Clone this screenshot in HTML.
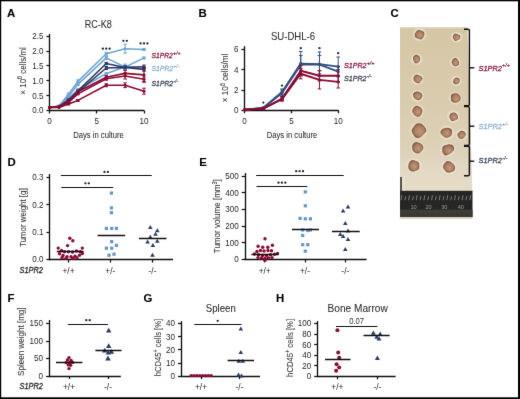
<!DOCTYPE html>
<html><head><meta charset="utf-8"><style>
html,body{margin:0;padding:0;background:#fff;}
svg{display:block;will-change:transform;}
text{font-family:"Liberation Sans", sans-serif;}
</style></head><body>
<svg width="520" height="399" viewBox="0 0 520 399">
<filter id="blr" x="0" y="0" width="520" height="399" filterUnits="userSpaceOnUse" primitiveUnits="userSpaceOnUse" color-interpolation-filters="sRGB"><feConvolveMatrix order="3" kernelMatrix="0.0052 0.0619 0.0052 0.0619 0.7314 0.0619 0.0052 0.0619 0.0052" edgeMode="duplicate" preserveAlpha="true"/></filter>
<g filter="url(#blr)">
<rect x="0" y="0" width="520" height="399" fill="#000"/>
<rect x="1.2" y="1.3" width="516.8" height="396" fill="#fff"/>
<text x="7.00" y="17.00" font-size="11.4" fill="#000" font-weight="bold"  stroke="#000" stroke-width="0.1">A</text>
<text x="98.30" y="28.30" font-size="10.4" fill="#2a2a2a" text-anchor="middle" textLength="27.3" lengthAdjust="spacingAndGlyphs"  stroke="#2a2a2a" stroke-width="0.06">RC-K8</text>
<line x1="49.50" y1="34.00" x2="49.50" y2="111.10" stroke="#111" stroke-width="1.35"/>
<line x1="46.45" y1="110.50" x2="49.75" y2="110.50" stroke="#111" stroke-width="1.25"/>
<text x="43.45" y="113.38" font-size="9.4" fill="#262626" text-anchor="end" textLength="11.24" lengthAdjust="spacingAndGlyphs" >0.0</text>
<line x1="46.45" y1="95.50" x2="49.75" y2="95.50" stroke="#111" stroke-width="1.25"/>
<text x="43.45" y="98.52" font-size="9.4" fill="#262626" text-anchor="end" textLength="11.24" lengthAdjust="spacingAndGlyphs" >0.5</text>
<line x1="46.45" y1="80.50" x2="49.75" y2="80.50" stroke="#111" stroke-width="1.25"/>
<text x="43.45" y="83.66" font-size="9.4" fill="#262626" text-anchor="end" textLength="11.24" lengthAdjust="spacingAndGlyphs" >1.0</text>
<line x1="46.45" y1="65.50" x2="49.75" y2="65.50" stroke="#111" stroke-width="1.25"/>
<text x="43.45" y="68.80" font-size="9.4" fill="#262626" text-anchor="end" textLength="11.24" lengthAdjust="spacingAndGlyphs" >1.5</text>
<line x1="46.45" y1="51.50" x2="49.75" y2="51.50" stroke="#111" stroke-width="1.25"/>
<text x="43.45" y="53.94" font-size="9.4" fill="#262626" text-anchor="end" textLength="11.24" lengthAdjust="spacingAndGlyphs" >2.0</text>
<line x1="46.45" y1="36.50" x2="49.75" y2="36.50" stroke="#111" stroke-width="1.25"/>
<text x="43.45" y="39.08" font-size="9.4" fill="#262626" text-anchor="end" textLength="11.24" lengthAdjust="spacingAndGlyphs" >2.5</text>
<line x1="49.15" y1="110.50" x2="144.20" y2="110.50" stroke="#111" stroke-width="1.35"/>
<line x1="49.50" y1="110.50" x2="49.50" y2="113.50" stroke="#111" stroke-width="1.25"/>
<text x="49.60" y="124.00" font-size="9.4" fill="#262626" text-anchor="middle" textLength="4.5" lengthAdjust="spacingAndGlyphs" >0</text>
<line x1="96.50" y1="110.50" x2="96.50" y2="113.50" stroke="#111" stroke-width="1.25"/>
<text x="96.80" y="124.00" font-size="9.4" fill="#262626" text-anchor="middle" textLength="4.5" lengthAdjust="spacingAndGlyphs" >5</text>
<line x1="144.50" y1="110.50" x2="144.50" y2="113.50" stroke="#111" stroke-width="1.25"/>
<text x="144.00" y="124.00" font-size="9.4" fill="#262626" text-anchor="middle" textLength="8.99" lengthAdjust="spacingAndGlyphs" >10</text>
<text x="98.50" y="137.70" font-size="9.9" fill="#2a2a2a" text-anchor="middle" textLength="50.5" lengthAdjust="spacingAndGlyphs"  stroke="#2a2a2a" stroke-width="0.06">Days in culture</text>
<text x="25.60" y="70.90" font-size="9.4" fill="#333" text-anchor="middle" textLength="47.5" lengthAdjust="spacingAndGlyphs" transform="rotate(-90 25.60 70.90)"  stroke="#333" stroke-width="0.06">× 10<tspan dy='-3.2' font-size='6.4'>6</tspan><tspan dy='3.2'> cells/ml</tspan></text>
<polyline points="49.60,107.53 59.04,106.04 68.48,94.15 77.92,81.37 106.24,53.73 125.12,48.68 144.00,49.57" fill="none" stroke="#6ea6d8" stroke-width="1.6" stroke-linejoin="round"/>
<circle cx="49.60" cy="107.53" r="1.5" fill="#6ea6d8"/>
<circle cx="59.04" cy="106.04" r="1.5" fill="#6ea6d8"/>
<line x1="68.48" y1="92.97" x2="68.48" y2="95.34" stroke="#6ea6d8" stroke-width="1.0"/>
<line x1="66.68" y1="92.97" x2="70.28" y2="92.97" stroke="#6ea6d8" stroke-width="1.0"/>
<line x1="66.68" y1="95.34" x2="70.28" y2="95.34" stroke="#6ea6d8" stroke-width="1.0"/>
<circle cx="68.48" cy="94.15" r="1.5" fill="#6ea6d8"/>
<line x1="77.92" y1="79.89" x2="77.92" y2="82.86" stroke="#6ea6d8" stroke-width="1.0"/>
<line x1="76.12" y1="79.89" x2="79.72" y2="79.89" stroke="#6ea6d8" stroke-width="1.0"/>
<line x1="76.12" y1="82.86" x2="79.72" y2="82.86" stroke="#6ea6d8" stroke-width="1.0"/>
<circle cx="77.92" cy="81.37" r="1.5" fill="#6ea6d8"/>
<line x1="106.24" y1="52.25" x2="106.24" y2="55.22" stroke="#6ea6d8" stroke-width="1.0"/>
<line x1="104.44" y1="52.25" x2="108.04" y2="52.25" stroke="#6ea6d8" stroke-width="1.0"/>
<line x1="104.44" y1="55.22" x2="108.04" y2="55.22" stroke="#6ea6d8" stroke-width="1.0"/>
<circle cx="106.24" cy="53.73" r="1.5" fill="#6ea6d8"/>
<line x1="125.12" y1="44.22" x2="125.12" y2="53.14" stroke="#6ea6d8" stroke-width="1.0"/>
<line x1="123.32" y1="44.22" x2="126.92" y2="44.22" stroke="#6ea6d8" stroke-width="1.0"/>
<line x1="123.32" y1="53.14" x2="126.92" y2="53.14" stroke="#6ea6d8" stroke-width="1.0"/>
<circle cx="125.12" cy="48.68" r="1.5" fill="#6ea6d8"/>
<line x1="144.00" y1="48.68" x2="144.00" y2="50.47" stroke="#6ea6d8" stroke-width="1.0"/>
<line x1="142.20" y1="48.68" x2="145.80" y2="48.68" stroke="#6ea6d8" stroke-width="1.0"/>
<line x1="142.20" y1="50.47" x2="145.80" y2="50.47" stroke="#6ea6d8" stroke-width="1.0"/>
<circle cx="144.00" cy="49.57" r="1.5" fill="#6ea6d8"/>
<polyline points="49.60,107.53 59.04,106.04 68.48,96.53 77.92,84.35 106.24,57.90 125.12,67.11 144.00,57.90" fill="none" stroke="#6ea6d8" stroke-width="1.6" stroke-linejoin="round"/>
<circle cx="49.60" cy="107.53" r="1.5" fill="#6ea6d8"/>
<circle cx="59.04" cy="106.04" r="1.5" fill="#6ea6d8"/>
<line x1="68.48" y1="95.64" x2="68.48" y2="97.42" stroke="#6ea6d8" stroke-width="1.0"/>
<line x1="66.68" y1="95.64" x2="70.28" y2="95.64" stroke="#6ea6d8" stroke-width="1.0"/>
<line x1="66.68" y1="97.42" x2="70.28" y2="97.42" stroke="#6ea6d8" stroke-width="1.0"/>
<circle cx="68.48" cy="96.53" r="1.5" fill="#6ea6d8"/>
<line x1="77.92" y1="83.16" x2="77.92" y2="85.54" stroke="#6ea6d8" stroke-width="1.0"/>
<line x1="76.12" y1="83.16" x2="79.72" y2="83.16" stroke="#6ea6d8" stroke-width="1.0"/>
<line x1="76.12" y1="85.54" x2="79.72" y2="85.54" stroke="#6ea6d8" stroke-width="1.0"/>
<circle cx="77.92" cy="84.35" r="1.5" fill="#6ea6d8"/>
<line x1="106.24" y1="56.41" x2="106.24" y2="59.38" stroke="#6ea6d8" stroke-width="1.0"/>
<line x1="104.44" y1="56.41" x2="108.04" y2="56.41" stroke="#6ea6d8" stroke-width="1.0"/>
<line x1="104.44" y1="59.38" x2="108.04" y2="59.38" stroke="#6ea6d8" stroke-width="1.0"/>
<circle cx="106.24" cy="57.90" r="1.5" fill="#6ea6d8"/>
<line x1="125.12" y1="64.14" x2="125.12" y2="70.08" stroke="#6ea6d8" stroke-width="1.0"/>
<line x1="123.32" y1="64.14" x2="126.92" y2="64.14" stroke="#6ea6d8" stroke-width="1.0"/>
<line x1="123.32" y1="70.08" x2="126.92" y2="70.08" stroke="#6ea6d8" stroke-width="1.0"/>
<circle cx="125.12" cy="67.11" r="1.5" fill="#6ea6d8"/>
<line x1="144.00" y1="57.00" x2="144.00" y2="58.79" stroke="#6ea6d8" stroke-width="1.0"/>
<line x1="142.20" y1="57.00" x2="145.80" y2="57.00" stroke="#6ea6d8" stroke-width="1.0"/>
<line x1="142.20" y1="58.79" x2="145.80" y2="58.79" stroke="#6ea6d8" stroke-width="1.0"/>
<circle cx="144.00" cy="57.90" r="1.5" fill="#6ea6d8"/>
<polyline points="49.60,107.53 59.04,106.64 68.48,98.61 77.92,89.70 106.24,73.65 125.12,66.81 144.00,68.89" fill="none" stroke="#6ea6d8" stroke-width="1.6" stroke-linejoin="round"/>
<circle cx="49.60" cy="107.53" r="1.5" fill="#6ea6d8"/>
<circle cx="59.04" cy="106.64" r="1.5" fill="#6ea6d8"/>
<line x1="68.48" y1="97.72" x2="68.48" y2="99.50" stroke="#6ea6d8" stroke-width="1.0"/>
<line x1="66.68" y1="97.72" x2="70.28" y2="97.72" stroke="#6ea6d8" stroke-width="1.0"/>
<line x1="66.68" y1="99.50" x2="70.28" y2="99.50" stroke="#6ea6d8" stroke-width="1.0"/>
<circle cx="68.48" cy="98.61" r="1.5" fill="#6ea6d8"/>
<line x1="77.92" y1="88.80" x2="77.92" y2="90.59" stroke="#6ea6d8" stroke-width="1.0"/>
<line x1="76.12" y1="88.80" x2="79.72" y2="88.80" stroke="#6ea6d8" stroke-width="1.0"/>
<line x1="76.12" y1="90.59" x2="79.72" y2="90.59" stroke="#6ea6d8" stroke-width="1.0"/>
<circle cx="77.92" cy="89.70" r="1.5" fill="#6ea6d8"/>
<line x1="106.24" y1="72.46" x2="106.24" y2="74.84" stroke="#6ea6d8" stroke-width="1.0"/>
<line x1="104.44" y1="72.46" x2="108.04" y2="72.46" stroke="#6ea6d8" stroke-width="1.0"/>
<line x1="104.44" y1="74.84" x2="108.04" y2="74.84" stroke="#6ea6d8" stroke-width="1.0"/>
<circle cx="106.24" cy="73.65" r="1.5" fill="#6ea6d8"/>
<line x1="125.12" y1="65.33" x2="125.12" y2="68.30" stroke="#6ea6d8" stroke-width="1.0"/>
<line x1="123.32" y1="65.33" x2="126.92" y2="65.33" stroke="#6ea6d8" stroke-width="1.0"/>
<line x1="123.32" y1="68.30" x2="126.92" y2="68.30" stroke="#6ea6d8" stroke-width="1.0"/>
<circle cx="125.12" cy="66.81" r="1.5" fill="#6ea6d8"/>
<line x1="144.00" y1="67.41" x2="144.00" y2="70.38" stroke="#6ea6d8" stroke-width="1.0"/>
<line x1="142.20" y1="67.41" x2="145.80" y2="67.41" stroke="#6ea6d8" stroke-width="1.0"/>
<line x1="142.20" y1="70.38" x2="145.80" y2="70.38" stroke="#6ea6d8" stroke-width="1.0"/>
<circle cx="144.00" cy="68.89" r="1.5" fill="#6ea6d8"/>
<polyline points="49.60,107.53 59.04,106.34 68.48,99.80 77.92,90.88 106.24,63.54 125.12,67.41 144.00,66.81" fill="none" stroke="#2c3d66" stroke-width="1.6" stroke-linejoin="round"/>
<circle cx="49.60" cy="107.53" r="1.5" fill="#2c3d66"/>
<circle cx="59.04" cy="106.34" r="1.5" fill="#2c3d66"/>
<line x1="68.48" y1="98.91" x2="68.48" y2="100.69" stroke="#2c3d66" stroke-width="1.0"/>
<line x1="66.68" y1="98.91" x2="70.28" y2="98.91" stroke="#2c3d66" stroke-width="1.0"/>
<line x1="66.68" y1="100.69" x2="70.28" y2="100.69" stroke="#2c3d66" stroke-width="1.0"/>
<circle cx="68.48" cy="99.80" r="1.5" fill="#2c3d66"/>
<line x1="77.92" y1="89.99" x2="77.92" y2="91.78" stroke="#2c3d66" stroke-width="1.0"/>
<line x1="76.12" y1="89.99" x2="79.72" y2="89.99" stroke="#2c3d66" stroke-width="1.0"/>
<line x1="76.12" y1="91.78" x2="79.72" y2="91.78" stroke="#2c3d66" stroke-width="1.0"/>
<circle cx="77.92" cy="90.88" r="1.5" fill="#2c3d66"/>
<line x1="106.24" y1="62.35" x2="106.24" y2="64.73" stroke="#2c3d66" stroke-width="1.0"/>
<line x1="104.44" y1="62.35" x2="108.04" y2="62.35" stroke="#2c3d66" stroke-width="1.0"/>
<line x1="104.44" y1="64.73" x2="108.04" y2="64.73" stroke="#2c3d66" stroke-width="1.0"/>
<circle cx="106.24" cy="63.54" r="1.5" fill="#2c3d66"/>
<line x1="125.12" y1="65.92" x2="125.12" y2="68.89" stroke="#2c3d66" stroke-width="1.0"/>
<line x1="123.32" y1="65.92" x2="126.92" y2="65.92" stroke="#2c3d66" stroke-width="1.0"/>
<line x1="123.32" y1="68.89" x2="126.92" y2="68.89" stroke="#2c3d66" stroke-width="1.0"/>
<circle cx="125.12" cy="67.41" r="1.5" fill="#2c3d66"/>
<line x1="144.00" y1="65.03" x2="144.00" y2="68.59" stroke="#2c3d66" stroke-width="1.0"/>
<line x1="142.20" y1="65.03" x2="145.80" y2="65.03" stroke="#2c3d66" stroke-width="1.0"/>
<line x1="142.20" y1="68.59" x2="145.80" y2="68.59" stroke="#2c3d66" stroke-width="1.0"/>
<circle cx="144.00" cy="66.81" r="1.5" fill="#2c3d66"/>
<polyline points="49.60,107.53 59.04,106.64 68.48,100.99 77.92,92.07 106.24,68.00 125.12,67.41 144.00,69.49" fill="none" stroke="#2c3d66" stroke-width="1.6" stroke-linejoin="round"/>
<circle cx="49.60" cy="107.53" r="1.5" fill="#2c3d66"/>
<circle cx="59.04" cy="106.64" r="1.5" fill="#2c3d66"/>
<line x1="68.48" y1="100.10" x2="68.48" y2="101.88" stroke="#2c3d66" stroke-width="1.0"/>
<line x1="66.68" y1="100.10" x2="70.28" y2="100.10" stroke="#2c3d66" stroke-width="1.0"/>
<line x1="66.68" y1="101.88" x2="70.28" y2="101.88" stroke="#2c3d66" stroke-width="1.0"/>
<circle cx="68.48" cy="100.99" r="1.5" fill="#2c3d66"/>
<line x1="77.92" y1="91.18" x2="77.92" y2="92.97" stroke="#2c3d66" stroke-width="1.0"/>
<line x1="76.12" y1="91.18" x2="79.72" y2="91.18" stroke="#2c3d66" stroke-width="1.0"/>
<line x1="76.12" y1="92.97" x2="79.72" y2="92.97" stroke="#2c3d66" stroke-width="1.0"/>
<circle cx="77.92" cy="92.07" r="1.5" fill="#2c3d66"/>
<line x1="106.24" y1="66.51" x2="106.24" y2="69.49" stroke="#2c3d66" stroke-width="1.0"/>
<line x1="104.44" y1="66.51" x2="108.04" y2="66.51" stroke="#2c3d66" stroke-width="1.0"/>
<line x1="104.44" y1="69.49" x2="108.04" y2="69.49" stroke="#2c3d66" stroke-width="1.0"/>
<circle cx="106.24" cy="68.00" r="1.5" fill="#2c3d66"/>
<line x1="125.12" y1="66.22" x2="125.12" y2="68.59" stroke="#2c3d66" stroke-width="1.0"/>
<line x1="123.32" y1="66.22" x2="126.92" y2="66.22" stroke="#2c3d66" stroke-width="1.0"/>
<line x1="123.32" y1="68.59" x2="126.92" y2="68.59" stroke="#2c3d66" stroke-width="1.0"/>
<circle cx="125.12" cy="67.41" r="1.5" fill="#2c3d66"/>
<line x1="144.00" y1="67.70" x2="144.00" y2="71.27" stroke="#2c3d66" stroke-width="1.0"/>
<line x1="142.20" y1="67.70" x2="145.80" y2="67.70" stroke="#2c3d66" stroke-width="1.0"/>
<line x1="142.20" y1="71.27" x2="145.80" y2="71.27" stroke="#2c3d66" stroke-width="1.0"/>
<circle cx="144.00" cy="69.49" r="1.5" fill="#2c3d66"/>
<polyline points="49.60,107.53 59.04,106.64 68.48,101.58 77.92,91.78 106.24,77.21 125.12,73.35 144.00,74.84" fill="none" stroke="#8c0c34" stroke-width="1.6" stroke-linejoin="round"/>
<circle cx="49.60" cy="107.53" r="1.5" fill="#8c0c34"/>
<circle cx="59.04" cy="106.64" r="1.5" fill="#8c0c34"/>
<line x1="68.48" y1="100.69" x2="68.48" y2="102.48" stroke="#8c0c34" stroke-width="1.0"/>
<line x1="66.68" y1="100.69" x2="70.28" y2="100.69" stroke="#8c0c34" stroke-width="1.0"/>
<line x1="66.68" y1="102.48" x2="70.28" y2="102.48" stroke="#8c0c34" stroke-width="1.0"/>
<circle cx="68.48" cy="101.58" r="1.5" fill="#8c0c34"/>
<line x1="77.92" y1="90.88" x2="77.92" y2="92.67" stroke="#8c0c34" stroke-width="1.0"/>
<line x1="76.12" y1="90.88" x2="79.72" y2="90.88" stroke="#8c0c34" stroke-width="1.0"/>
<line x1="76.12" y1="92.67" x2="79.72" y2="92.67" stroke="#8c0c34" stroke-width="1.0"/>
<circle cx="77.92" cy="91.78" r="1.5" fill="#8c0c34"/>
<line x1="106.24" y1="75.73" x2="106.24" y2="78.70" stroke="#8c0c34" stroke-width="1.0"/>
<line x1="104.44" y1="75.73" x2="108.04" y2="75.73" stroke="#8c0c34" stroke-width="1.0"/>
<line x1="104.44" y1="78.70" x2="108.04" y2="78.70" stroke="#8c0c34" stroke-width="1.0"/>
<circle cx="106.24" cy="77.21" r="1.5" fill="#8c0c34"/>
<line x1="125.12" y1="70.38" x2="125.12" y2="76.32" stroke="#8c0c34" stroke-width="1.0"/>
<line x1="123.32" y1="70.38" x2="126.92" y2="70.38" stroke="#8c0c34" stroke-width="1.0"/>
<line x1="123.32" y1="76.32" x2="126.92" y2="76.32" stroke="#8c0c34" stroke-width="1.0"/>
<circle cx="125.12" cy="73.35" r="1.5" fill="#8c0c34"/>
<line x1="144.00" y1="67.41" x2="144.00" y2="82.27" stroke="#8c0c34" stroke-width="1.0"/>
<line x1="142.20" y1="67.41" x2="145.80" y2="67.41" stroke="#8c0c34" stroke-width="1.0"/>
<line x1="142.20" y1="82.27" x2="145.80" y2="82.27" stroke="#8c0c34" stroke-width="1.0"/>
<circle cx="144.00" cy="74.84" r="1.5" fill="#8c0c34"/>
<polyline points="49.60,107.53 59.04,106.93 68.48,102.48 77.92,93.86 106.24,78.70 125.12,76.02 144.00,79.29" fill="none" stroke="#8c0c34" stroke-width="1.6" stroke-linejoin="round"/>
<circle cx="49.60" cy="107.53" r="1.5" fill="#8c0c34"/>
<circle cx="59.04" cy="106.93" r="1.5" fill="#8c0c34"/>
<line x1="68.48" y1="101.58" x2="68.48" y2="103.37" stroke="#8c0c34" stroke-width="1.0"/>
<line x1="66.68" y1="101.58" x2="70.28" y2="101.58" stroke="#8c0c34" stroke-width="1.0"/>
<line x1="66.68" y1="103.37" x2="70.28" y2="103.37" stroke="#8c0c34" stroke-width="1.0"/>
<circle cx="68.48" cy="102.48" r="1.5" fill="#8c0c34"/>
<line x1="77.92" y1="92.97" x2="77.92" y2="94.75" stroke="#8c0c34" stroke-width="1.0"/>
<line x1="76.12" y1="92.97" x2="79.72" y2="92.97" stroke="#8c0c34" stroke-width="1.0"/>
<line x1="76.12" y1="94.75" x2="79.72" y2="94.75" stroke="#8c0c34" stroke-width="1.0"/>
<circle cx="77.92" cy="93.86" r="1.5" fill="#8c0c34"/>
<line x1="106.24" y1="77.21" x2="106.24" y2="80.19" stroke="#8c0c34" stroke-width="1.0"/>
<line x1="104.44" y1="77.21" x2="108.04" y2="77.21" stroke="#8c0c34" stroke-width="1.0"/>
<line x1="104.44" y1="80.19" x2="108.04" y2="80.19" stroke="#8c0c34" stroke-width="1.0"/>
<circle cx="106.24" cy="78.70" r="1.5" fill="#8c0c34"/>
<line x1="125.12" y1="73.05" x2="125.12" y2="79.00" stroke="#8c0c34" stroke-width="1.0"/>
<line x1="123.32" y1="73.05" x2="126.92" y2="73.05" stroke="#8c0c34" stroke-width="1.0"/>
<line x1="123.32" y1="79.00" x2="126.92" y2="79.00" stroke="#8c0c34" stroke-width="1.0"/>
<circle cx="125.12" cy="76.02" r="1.5" fill="#8c0c34"/>
<line x1="144.00" y1="76.92" x2="144.00" y2="81.67" stroke="#8c0c34" stroke-width="1.0"/>
<line x1="142.20" y1="76.92" x2="145.80" y2="76.92" stroke="#8c0c34" stroke-width="1.0"/>
<line x1="142.20" y1="81.67" x2="145.80" y2="81.67" stroke="#8c0c34" stroke-width="1.0"/>
<circle cx="144.00" cy="79.29" r="1.5" fill="#8c0c34"/>
<polyline points="49.60,107.53 59.04,107.53 68.48,103.96 77.92,100.40 106.24,85.24 125.12,85.24 144.00,91.18" fill="none" stroke="#8c0c34" stroke-width="1.6" stroke-linejoin="round"/>
<circle cx="49.60" cy="107.53" r="1.5" fill="#8c0c34"/>
<circle cx="59.04" cy="107.53" r="1.5" fill="#8c0c34"/>
<line x1="68.48" y1="103.07" x2="68.48" y2="104.85" stroke="#8c0c34" stroke-width="1.0"/>
<line x1="66.68" y1="103.07" x2="70.28" y2="103.07" stroke="#8c0c34" stroke-width="1.0"/>
<line x1="66.68" y1="104.85" x2="70.28" y2="104.85" stroke="#8c0c34" stroke-width="1.0"/>
<circle cx="68.48" cy="103.96" r="1.5" fill="#8c0c34"/>
<line x1="77.92" y1="99.50" x2="77.92" y2="101.29" stroke="#8c0c34" stroke-width="1.0"/>
<line x1="76.12" y1="99.50" x2="79.72" y2="99.50" stroke="#8c0c34" stroke-width="1.0"/>
<line x1="76.12" y1="101.29" x2="79.72" y2="101.29" stroke="#8c0c34" stroke-width="1.0"/>
<circle cx="77.92" cy="100.40" r="1.5" fill="#8c0c34"/>
<line x1="106.24" y1="83.75" x2="106.24" y2="86.72" stroke="#8c0c34" stroke-width="1.0"/>
<line x1="104.44" y1="83.75" x2="108.04" y2="83.75" stroke="#8c0c34" stroke-width="1.0"/>
<line x1="104.44" y1="86.72" x2="108.04" y2="86.72" stroke="#8c0c34" stroke-width="1.0"/>
<circle cx="106.24" cy="85.24" r="1.5" fill="#8c0c34"/>
<line x1="125.12" y1="82.86" x2="125.12" y2="87.62" stroke="#8c0c34" stroke-width="1.0"/>
<line x1="123.32" y1="82.86" x2="126.92" y2="82.86" stroke="#8c0c34" stroke-width="1.0"/>
<line x1="123.32" y1="87.62" x2="126.92" y2="87.62" stroke="#8c0c34" stroke-width="1.0"/>
<circle cx="125.12" cy="85.24" r="1.5" fill="#8c0c34"/>
<line x1="144.00" y1="88.21" x2="144.00" y2="94.15" stroke="#8c0c34" stroke-width="1.0"/>
<line x1="142.20" y1="88.21" x2="145.80" y2="88.21" stroke="#8c0c34" stroke-width="1.0"/>
<line x1="142.20" y1="94.15" x2="145.80" y2="94.15" stroke="#8c0c34" stroke-width="1.0"/>
<circle cx="144.00" cy="91.18" r="1.5" fill="#8c0c34"/>
<circle cx="102.84" cy="48.70" r="1.15" fill="#222"/>
<circle cx="106.24" cy="48.70" r="1.15" fill="#222"/>
<circle cx="109.64" cy="48.70" r="1.15" fill="#222"/>
<circle cx="123.42" cy="40.80" r="1.15" fill="#222"/>
<circle cx="126.82" cy="40.80" r="1.15" fill="#222"/>
<circle cx="140.60" cy="43.40" r="1.15" fill="#222"/>
<circle cx="144.00" cy="43.40" r="1.15" fill="#222"/>
<circle cx="147.40" cy="43.40" r="1.15" fill="#222"/>
<text x="151.60" y="57.50" font-size="7.3" fill="#85163f" font-style="italic" textLength="21.2" lengthAdjust="spacingAndGlyphs"  stroke="#85163f" stroke-width="0.28">S1PR2</text>
<text x="173.00" y="54.58" font-size="5.2" fill="#85163f" font-style="italic"  stroke="#85163f" stroke-width="0.2">+/+</text>
<text x="151.60" y="70.90" font-size="7.3" fill="#8cb0cf" font-style="italic" textLength="21.5" lengthAdjust="spacingAndGlyphs"  stroke="#8cb0cf" stroke-width="0.28">S1PR2</text>
<text x="173.30" y="67.98" font-size="5.2" fill="#8cb0cf" font-style="italic"  stroke="#8cb0cf" stroke-width="0.2">+/-</text>
<text x="151.60" y="85.90" font-size="7.3" fill="#363c52" font-style="italic" textLength="21.5" lengthAdjust="spacingAndGlyphs"  stroke="#363c52" stroke-width="0.28">S1PR2</text>
<text x="173.30" y="82.98" font-size="5.2" fill="#363c52" font-style="italic"  stroke="#363c52" stroke-width="0.2">-/-</text>
<text x="198.40" y="17.00" font-size="11.4" fill="#000" font-weight="bold"  stroke="#000" stroke-width="0.1">B</text>
<text x="293.00" y="40.20" font-size="10.4" fill="#2a2a2a" text-anchor="middle" textLength="44.2" lengthAdjust="spacingAndGlyphs"  stroke="#2a2a2a" stroke-width="0.06">SU-DHL-6</text>
<line x1="244.50" y1="46.20" x2="244.50" y2="110.90" stroke="#111" stroke-width="1.35"/>
<line x1="241.40" y1="110.50" x2="244.70" y2="110.50" stroke="#111" stroke-width="1.25"/>
<text x="238.40" y="113.18" font-size="9.4" fill="#262626" text-anchor="end" textLength="4.5" lengthAdjust="spacingAndGlyphs" >0</text>
<line x1="241.40" y1="90.50" x2="244.70" y2="90.50" stroke="#111" stroke-width="1.25"/>
<text x="238.40" y="92.88" font-size="9.4" fill="#262626" text-anchor="end" textLength="4.5" lengthAdjust="spacingAndGlyphs" >2</text>
<line x1="241.40" y1="69.50" x2="244.70" y2="69.50" stroke="#111" stroke-width="1.25"/>
<text x="238.40" y="72.58" font-size="9.4" fill="#262626" text-anchor="end" textLength="4.5" lengthAdjust="spacingAndGlyphs" >4</text>
<line x1="241.40" y1="49.50" x2="244.70" y2="49.50" stroke="#111" stroke-width="1.25"/>
<text x="238.40" y="52.28" font-size="9.4" fill="#262626" text-anchor="end" textLength="4.5" lengthAdjust="spacingAndGlyphs" >6</text>
<line x1="244.10" y1="110.50" x2="338.30" y2="110.50" stroke="#111" stroke-width="1.35"/>
<line x1="244.50" y1="110.30" x2="244.50" y2="113.30" stroke="#111" stroke-width="1.25"/>
<text x="244.60" y="124.00" font-size="9.4" fill="#262626" text-anchor="middle" textLength="4.5" lengthAdjust="spacingAndGlyphs" >0</text>
<line x1="291.50" y1="110.30" x2="291.50" y2="113.30" stroke="#111" stroke-width="1.25"/>
<text x="291.40" y="124.00" font-size="9.4" fill="#262626" text-anchor="middle" textLength="4.5" lengthAdjust="spacingAndGlyphs" >5</text>
<line x1="338.50" y1="110.30" x2="338.50" y2="113.30" stroke="#111" stroke-width="1.25"/>
<text x="338.20" y="124.00" font-size="9.4" fill="#262626" text-anchor="middle" textLength="8.99" lengthAdjust="spacingAndGlyphs" >10</text>
<text x="292.00" y="137.70" font-size="9.9" fill="#2a2a2a" text-anchor="middle" textLength="50.5" lengthAdjust="spacingAndGlyphs"  stroke="#2a2a2a" stroke-width="0.06">Days in culture</text>
<text x="228.30" y="77.90" font-size="9.4" fill="#333" text-anchor="middle" textLength="48.5" lengthAdjust="spacingAndGlyphs" transform="rotate(-90 228.30 77.90)"  stroke="#333" stroke-width="0.06">× 10<tspan dy='-3.2' font-size='6.4'>6</tspan><tspan dy='3.2'> cells/ml</tspan></text>
<polyline points="244.60,109.79 263.32,107.76 282.04,92.03 300.76,63.61 319.48,64.12 338.20,66.66" fill="none" stroke="#34507e" stroke-width="1.9" stroke-linejoin="round"/>
<circle cx="244.60" cy="109.79" r="1.6" fill="#34507e"/>
<line x1="263.32" y1="107.25" x2="263.32" y2="108.27" stroke="#34507e" stroke-width="1.0"/>
<line x1="261.52" y1="107.25" x2="265.12" y2="107.25" stroke="#34507e" stroke-width="1.0"/>
<line x1="261.52" y1="108.27" x2="265.12" y2="108.27" stroke="#34507e" stroke-width="1.0"/>
<circle cx="263.32" cy="107.76" r="1.6" fill="#34507e"/>
<line x1="282.04" y1="88.98" x2="282.04" y2="95.07" stroke="#34507e" stroke-width="1.0"/>
<line x1="280.24" y1="88.98" x2="283.84" y2="88.98" stroke="#34507e" stroke-width="1.0"/>
<line x1="280.24" y1="95.07" x2="283.84" y2="95.07" stroke="#34507e" stroke-width="1.0"/>
<circle cx="282.04" cy="92.03" r="1.6" fill="#34507e"/>
<line x1="300.76" y1="51.43" x2="300.76" y2="75.79" stroke="#34507e" stroke-width="1.0"/>
<line x1="298.96" y1="51.43" x2="302.56" y2="51.43" stroke="#34507e" stroke-width="1.0"/>
<line x1="298.96" y1="75.79" x2="302.56" y2="75.79" stroke="#34507e" stroke-width="1.0"/>
<circle cx="300.76" cy="63.61" r="1.6" fill="#34507e"/>
<line x1="319.48" y1="51.94" x2="319.48" y2="76.30" stroke="#34507e" stroke-width="1.0"/>
<line x1="317.68" y1="51.94" x2="321.28" y2="51.94" stroke="#34507e" stroke-width="1.0"/>
<line x1="317.68" y1="76.30" x2="321.28" y2="76.30" stroke="#34507e" stroke-width="1.0"/>
<circle cx="319.48" cy="64.12" r="1.6" fill="#34507e"/>
<line x1="338.20" y1="57.01" x2="338.20" y2="76.30" stroke="#34507e" stroke-width="1.0"/>
<line x1="336.40" y1="57.01" x2="340.00" y2="57.01" stroke="#34507e" stroke-width="1.0"/>
<line x1="336.40" y1="76.30" x2="340.00" y2="76.30" stroke="#34507e" stroke-width="1.0"/>
<circle cx="338.20" cy="66.66" r="1.6" fill="#34507e"/>
<polyline points="244.60,109.79 263.32,108.07 282.04,93.05 300.76,64.62 319.48,64.62 338.20,71.73" fill="none" stroke="#34507e" stroke-width="1.9" stroke-linejoin="round"/>
<circle cx="244.60" cy="109.79" r="1.6" fill="#34507e"/>
<line x1="263.32" y1="107.56" x2="263.32" y2="108.57" stroke="#34507e" stroke-width="1.0"/>
<line x1="261.52" y1="107.56" x2="265.12" y2="107.56" stroke="#34507e" stroke-width="1.0"/>
<line x1="261.52" y1="108.57" x2="265.12" y2="108.57" stroke="#34507e" stroke-width="1.0"/>
<circle cx="263.32" cy="108.07" r="1.6" fill="#34507e"/>
<line x1="282.04" y1="90.00" x2="282.04" y2="96.09" stroke="#34507e" stroke-width="1.0"/>
<line x1="280.24" y1="90.00" x2="283.84" y2="90.00" stroke="#34507e" stroke-width="1.0"/>
<line x1="280.24" y1="96.09" x2="283.84" y2="96.09" stroke="#34507e" stroke-width="1.0"/>
<circle cx="282.04" cy="93.05" r="1.6" fill="#34507e"/>
<line x1="300.76" y1="55.49" x2="300.76" y2="73.76" stroke="#34507e" stroke-width="1.0"/>
<line x1="298.96" y1="55.49" x2="302.56" y2="55.49" stroke="#34507e" stroke-width="1.0"/>
<line x1="298.96" y1="73.76" x2="302.56" y2="73.76" stroke="#34507e" stroke-width="1.0"/>
<circle cx="300.76" cy="64.62" r="1.6" fill="#34507e"/>
<line x1="319.48" y1="55.49" x2="319.48" y2="73.76" stroke="#34507e" stroke-width="1.0"/>
<line x1="317.68" y1="55.49" x2="321.28" y2="55.49" stroke="#34507e" stroke-width="1.0"/>
<line x1="317.68" y1="73.76" x2="321.28" y2="73.76" stroke="#34507e" stroke-width="1.0"/>
<circle cx="319.48" cy="64.62" r="1.6" fill="#34507e"/>
<line x1="338.20" y1="66.66" x2="338.20" y2="76.81" stroke="#34507e" stroke-width="1.0"/>
<line x1="336.40" y1="66.66" x2="340.00" y2="66.66" stroke="#34507e" stroke-width="1.0"/>
<line x1="336.40" y1="76.81" x2="340.00" y2="76.81" stroke="#34507e" stroke-width="1.0"/>
<circle cx="338.20" cy="71.73" r="1.6" fill="#34507e"/>
<polyline points="244.60,109.79 263.32,108.47 282.04,98.63 300.76,70.72 319.48,75.79 338.20,75.79" fill="none" stroke="#8c0c34" stroke-width="1.9" stroke-linejoin="round"/>
<circle cx="244.60" cy="109.79" r="1.6" fill="#8c0c34"/>
<line x1="263.32" y1="107.97" x2="263.32" y2="108.98" stroke="#8c0c34" stroke-width="1.0"/>
<line x1="261.52" y1="107.97" x2="265.12" y2="107.97" stroke="#8c0c34" stroke-width="1.0"/>
<line x1="261.52" y1="108.98" x2="265.12" y2="108.98" stroke="#8c0c34" stroke-width="1.0"/>
<circle cx="263.32" cy="108.47" r="1.6" fill="#8c0c34"/>
<line x1="282.04" y1="96.60" x2="282.04" y2="100.66" stroke="#8c0c34" stroke-width="1.0"/>
<line x1="280.24" y1="96.60" x2="283.84" y2="96.60" stroke="#8c0c34" stroke-width="1.0"/>
<line x1="280.24" y1="100.66" x2="283.84" y2="100.66" stroke="#8c0c34" stroke-width="1.0"/>
<circle cx="282.04" cy="98.63" r="1.6" fill="#8c0c34"/>
<line x1="300.76" y1="65.64" x2="300.76" y2="75.79" stroke="#8c0c34" stroke-width="1.0"/>
<line x1="298.96" y1="65.64" x2="302.56" y2="65.64" stroke="#8c0c34" stroke-width="1.0"/>
<line x1="298.96" y1="75.79" x2="302.56" y2="75.79" stroke="#8c0c34" stroke-width="1.0"/>
<circle cx="300.76" cy="70.72" r="1.6" fill="#8c0c34"/>
<line x1="319.48" y1="70.72" x2="319.48" y2="80.86" stroke="#8c0c34" stroke-width="1.0"/>
<line x1="317.68" y1="70.72" x2="321.28" y2="70.72" stroke="#8c0c34" stroke-width="1.0"/>
<line x1="317.68" y1="80.86" x2="321.28" y2="80.86" stroke="#8c0c34" stroke-width="1.0"/>
<circle cx="319.48" cy="75.79" r="1.6" fill="#8c0c34"/>
<line x1="338.20" y1="69.70" x2="338.20" y2="81.88" stroke="#8c0c34" stroke-width="1.0"/>
<line x1="336.40" y1="69.70" x2="340.00" y2="69.70" stroke="#8c0c34" stroke-width="1.0"/>
<line x1="336.40" y1="81.88" x2="340.00" y2="81.88" stroke="#8c0c34" stroke-width="1.0"/>
<circle cx="338.20" cy="75.79" r="1.6" fill="#8c0c34"/>
<polyline points="244.60,109.79 263.32,108.78 282.04,99.13 300.76,73.76 319.48,79.85 338.20,81.88" fill="none" stroke="#8c0c34" stroke-width="1.9" stroke-linejoin="round"/>
<circle cx="244.60" cy="109.79" r="1.6" fill="#8c0c34"/>
<line x1="263.32" y1="108.27" x2="263.32" y2="109.28" stroke="#8c0c34" stroke-width="1.0"/>
<line x1="261.52" y1="108.27" x2="265.12" y2="108.27" stroke="#8c0c34" stroke-width="1.0"/>
<line x1="261.52" y1="109.28" x2="265.12" y2="109.28" stroke="#8c0c34" stroke-width="1.0"/>
<circle cx="263.32" cy="108.78" r="1.6" fill="#8c0c34"/>
<line x1="282.04" y1="97.10" x2="282.04" y2="101.16" stroke="#8c0c34" stroke-width="1.0"/>
<line x1="280.24" y1="97.10" x2="283.84" y2="97.10" stroke="#8c0c34" stroke-width="1.0"/>
<line x1="280.24" y1="101.16" x2="283.84" y2="101.16" stroke="#8c0c34" stroke-width="1.0"/>
<circle cx="282.04" cy="99.13" r="1.6" fill="#8c0c34"/>
<line x1="300.76" y1="68.69" x2="300.76" y2="78.83" stroke="#8c0c34" stroke-width="1.0"/>
<line x1="298.96" y1="68.69" x2="302.56" y2="68.69" stroke="#8c0c34" stroke-width="1.0"/>
<line x1="298.96" y1="78.83" x2="302.56" y2="78.83" stroke="#8c0c34" stroke-width="1.0"/>
<circle cx="300.76" cy="73.76" r="1.6" fill="#8c0c34"/>
<line x1="319.48" y1="70.72" x2="319.48" y2="88.98" stroke="#8c0c34" stroke-width="1.0"/>
<line x1="317.68" y1="70.72" x2="321.28" y2="70.72" stroke="#8c0c34" stroke-width="1.0"/>
<line x1="317.68" y1="88.98" x2="321.28" y2="88.98" stroke="#8c0c34" stroke-width="1.0"/>
<circle cx="319.48" cy="79.85" r="1.6" fill="#8c0c34"/>
<line x1="338.20" y1="75.79" x2="338.20" y2="87.97" stroke="#8c0c34" stroke-width="1.0"/>
<line x1="336.40" y1="75.79" x2="340.00" y2="75.79" stroke="#8c0c34" stroke-width="1.0"/>
<line x1="336.40" y1="87.97" x2="340.00" y2="87.97" stroke="#8c0c34" stroke-width="1.0"/>
<circle cx="338.20" cy="81.88" r="1.6" fill="#8c0c34"/>
<circle cx="263.32" cy="102.60" r="1.15" fill="#222"/>
<circle cx="282.04" cy="85.60" r="1.15" fill="#222"/>
<circle cx="300.76" cy="48.20" r="1.15" fill="#222"/>
<circle cx="319.48" cy="48.20" r="1.15" fill="#222"/>
<circle cx="338.20" cy="53.20" r="1.15" fill="#222"/>
<text x="344.00" y="67.60" font-size="7.7" fill="#85163f" font-style="italic" textLength="22.5" lengthAdjust="spacingAndGlyphs"  stroke="#85163f" stroke-width="0.28">S1PR2</text>
<text x="366.70" y="64.52" font-size="5.4" fill="#85163f" font-style="italic"  stroke="#85163f" stroke-width="0.2">+/+</text>
<text x="344.00" y="80.70" font-size="7.7" fill="#363c52" font-style="italic" textLength="22.5" lengthAdjust="spacingAndGlyphs"  stroke="#363c52" stroke-width="0.28">S1PR2</text>
<text x="366.70" y="77.62" font-size="5.4" fill="#363c52" font-style="italic"  stroke="#363c52" stroke-width="0.2">-/-</text>
<text x="390.60" y="17.20" font-size="11.4" fill="#000" font-weight="bold"  stroke="#000" stroke-width="0.1">C</text>
<defs>
<radialGradient id="tg" cx="0.5" cy="0.5" r="0.55" fx="0.58" fy="0.6">
<stop offset="0" stop-color="#c09a7c"/><stop offset="0.6" stop-color="#ab7e60"/><stop offset="0.85" stop-color="#8a5e46"/><stop offset="1" stop-color="#6a4636"/></radialGradient>
<radialGradient id="th" cx="0.5" cy="0.5" r="0.5">
<stop offset="0.6" stop-color="#eee6d6"/><stop offset="1" stop-color="#eee6d6" stop-opacity="0"/></radialGradient>
<linearGradient id="bg" x1="0" y1="0" x2="0" y2="1">
<stop offset="0" stop-color="#d5c6a5"/><stop offset="0.45" stop-color="#d9cbad"/><stop offset="0.75" stop-color="#ddd1b7"/><stop offset="0.87" stop-color="#e3d9c3"/><stop offset="1" stop-color="#e5dcc8"/></linearGradient>
</defs>
<polygon points="400,27.4 467.4,27.4 472.4,191 400,191" fill="url(#bg)"/>
<rect x="400" y="27.4" width="67.6" height="1.2" fill="#ddd2b8"/>
<rect x="400" y="177" width="2.0" height="15" fill="#5a5246"/>
<rect x="402" y="177" width="3" height="14" fill="#e8dfcc"/>
<rect x="400" y="190.8" width="72.5" height="26.2" fill="#262624"/>
<rect x="400" y="209.5" width="72.5" height="7.5" fill="#3b3833"/>
<line x1="401.00" y1="210.5" x2="401.00" y2="214.5" stroke="#4e4b45" stroke-width="0.4"/>
<line x1="401.98" y1="210.5" x2="401.98" y2="212.5" stroke="#4e4b45" stroke-width="0.4"/>
<line x1="402.96" y1="210.5" x2="402.96" y2="212.5" stroke="#4e4b45" stroke-width="0.4"/>
<line x1="403.94" y1="210.5" x2="403.94" y2="212.5" stroke="#4e4b45" stroke-width="0.4"/>
<line x1="404.92" y1="210.5" x2="404.92" y2="212.5" stroke="#4e4b45" stroke-width="0.4"/>
<line x1="405.90" y1="210.5" x2="405.90" y2="214.5" stroke="#4e4b45" stroke-width="0.4"/>
<line x1="406.88" y1="210.5" x2="406.88" y2="212.5" stroke="#4e4b45" stroke-width="0.4"/>
<line x1="407.86" y1="210.5" x2="407.86" y2="212.5" stroke="#4e4b45" stroke-width="0.4"/>
<line x1="408.84" y1="210.5" x2="408.84" y2="212.5" stroke="#4e4b45" stroke-width="0.4"/>
<line x1="409.82" y1="210.5" x2="409.82" y2="212.5" stroke="#4e4b45" stroke-width="0.4"/>
<line x1="410.80" y1="210.5" x2="410.80" y2="214.5" stroke="#4e4b45" stroke-width="0.4"/>
<line x1="411.78" y1="210.5" x2="411.78" y2="212.5" stroke="#4e4b45" stroke-width="0.4"/>
<line x1="412.76" y1="210.5" x2="412.76" y2="212.5" stroke="#4e4b45" stroke-width="0.4"/>
<line x1="413.74" y1="210.5" x2="413.74" y2="212.5" stroke="#4e4b45" stroke-width="0.4"/>
<line x1="414.72" y1="210.5" x2="414.72" y2="212.5" stroke="#4e4b45" stroke-width="0.4"/>
<line x1="415.70" y1="210.5" x2="415.70" y2="214.5" stroke="#4e4b45" stroke-width="0.4"/>
<line x1="416.68" y1="210.5" x2="416.68" y2="212.5" stroke="#4e4b45" stroke-width="0.4"/>
<line x1="417.66" y1="210.5" x2="417.66" y2="212.5" stroke="#4e4b45" stroke-width="0.4"/>
<line x1="418.64" y1="210.5" x2="418.64" y2="212.5" stroke="#4e4b45" stroke-width="0.4"/>
<line x1="419.62" y1="210.5" x2="419.62" y2="212.5" stroke="#4e4b45" stroke-width="0.4"/>
<line x1="420.60" y1="210.5" x2="420.60" y2="214.5" stroke="#4e4b45" stroke-width="0.4"/>
<line x1="421.58" y1="210.5" x2="421.58" y2="212.5" stroke="#4e4b45" stroke-width="0.4"/>
<line x1="422.56" y1="210.5" x2="422.56" y2="212.5" stroke="#4e4b45" stroke-width="0.4"/>
<line x1="423.54" y1="210.5" x2="423.54" y2="212.5" stroke="#4e4b45" stroke-width="0.4"/>
<line x1="424.52" y1="210.5" x2="424.52" y2="212.5" stroke="#4e4b45" stroke-width="0.4"/>
<line x1="425.50" y1="210.5" x2="425.50" y2="214.5" stroke="#4e4b45" stroke-width="0.4"/>
<line x1="426.48" y1="210.5" x2="426.48" y2="212.5" stroke="#4e4b45" stroke-width="0.4"/>
<line x1="427.46" y1="210.5" x2="427.46" y2="212.5" stroke="#4e4b45" stroke-width="0.4"/>
<line x1="428.44" y1="210.5" x2="428.44" y2="212.5" stroke="#4e4b45" stroke-width="0.4"/>
<line x1="429.42" y1="210.5" x2="429.42" y2="212.5" stroke="#4e4b45" stroke-width="0.4"/>
<line x1="430.40" y1="210.5" x2="430.40" y2="214.5" stroke="#4e4b45" stroke-width="0.4"/>
<line x1="431.38" y1="210.5" x2="431.38" y2="212.5" stroke="#4e4b45" stroke-width="0.4"/>
<line x1="432.36" y1="210.5" x2="432.36" y2="212.5" stroke="#4e4b45" stroke-width="0.4"/>
<line x1="433.34" y1="210.5" x2="433.34" y2="212.5" stroke="#4e4b45" stroke-width="0.4"/>
<line x1="434.32" y1="210.5" x2="434.32" y2="212.5" stroke="#4e4b45" stroke-width="0.4"/>
<line x1="435.30" y1="210.5" x2="435.30" y2="214.5" stroke="#4e4b45" stroke-width="0.4"/>
<line x1="436.28" y1="210.5" x2="436.28" y2="212.5" stroke="#4e4b45" stroke-width="0.4"/>
<line x1="437.26" y1="210.5" x2="437.26" y2="212.5" stroke="#4e4b45" stroke-width="0.4"/>
<line x1="438.24" y1="210.5" x2="438.24" y2="212.5" stroke="#4e4b45" stroke-width="0.4"/>
<line x1="439.22" y1="210.5" x2="439.22" y2="212.5" stroke="#4e4b45" stroke-width="0.4"/>
<line x1="440.20" y1="210.5" x2="440.20" y2="214.5" stroke="#4e4b45" stroke-width="0.4"/>
<line x1="441.18" y1="210.5" x2="441.18" y2="212.5" stroke="#4e4b45" stroke-width="0.4"/>
<line x1="442.16" y1="210.5" x2="442.16" y2="212.5" stroke="#4e4b45" stroke-width="0.4"/>
<line x1="443.14" y1="210.5" x2="443.14" y2="212.5" stroke="#4e4b45" stroke-width="0.4"/>
<line x1="444.12" y1="210.5" x2="444.12" y2="212.5" stroke="#4e4b45" stroke-width="0.4"/>
<line x1="445.10" y1="210.5" x2="445.10" y2="214.5" stroke="#4e4b45" stroke-width="0.4"/>
<line x1="446.08" y1="210.5" x2="446.08" y2="212.5" stroke="#4e4b45" stroke-width="0.4"/>
<line x1="447.06" y1="210.5" x2="447.06" y2="212.5" stroke="#4e4b45" stroke-width="0.4"/>
<line x1="448.04" y1="210.5" x2="448.04" y2="212.5" stroke="#4e4b45" stroke-width="0.4"/>
<line x1="449.02" y1="210.5" x2="449.02" y2="212.5" stroke="#4e4b45" stroke-width="0.4"/>
<line x1="450.00" y1="210.5" x2="450.00" y2="214.5" stroke="#4e4b45" stroke-width="0.4"/>
<line x1="450.98" y1="210.5" x2="450.98" y2="212.5" stroke="#4e4b45" stroke-width="0.4"/>
<line x1="451.96" y1="210.5" x2="451.96" y2="212.5" stroke="#4e4b45" stroke-width="0.4"/>
<line x1="452.94" y1="210.5" x2="452.94" y2="212.5" stroke="#4e4b45" stroke-width="0.4"/>
<line x1="453.92" y1="210.5" x2="453.92" y2="212.5" stroke="#4e4b45" stroke-width="0.4"/>
<line x1="454.90" y1="210.5" x2="454.90" y2="214.5" stroke="#4e4b45" stroke-width="0.4"/>
<line x1="455.88" y1="210.5" x2="455.88" y2="212.5" stroke="#4e4b45" stroke-width="0.4"/>
<line x1="456.86" y1="210.5" x2="456.86" y2="212.5" stroke="#4e4b45" stroke-width="0.4"/>
<line x1="457.84" y1="210.5" x2="457.84" y2="212.5" stroke="#4e4b45" stroke-width="0.4"/>
<line x1="458.82" y1="210.5" x2="458.82" y2="212.5" stroke="#4e4b45" stroke-width="0.4"/>
<line x1="459.80" y1="210.5" x2="459.80" y2="214.5" stroke="#4e4b45" stroke-width="0.4"/>
<line x1="460.78" y1="210.5" x2="460.78" y2="212.5" stroke="#4e4b45" stroke-width="0.4"/>
<line x1="461.76" y1="210.5" x2="461.76" y2="212.5" stroke="#4e4b45" stroke-width="0.4"/>
<line x1="462.74" y1="210.5" x2="462.74" y2="212.5" stroke="#4e4b45" stroke-width="0.4"/>
<line x1="463.72" y1="210.5" x2="463.72" y2="212.5" stroke="#4e4b45" stroke-width="0.4"/>
<line x1="464.70" y1="210.5" x2="464.70" y2="214.5" stroke="#4e4b45" stroke-width="0.4"/>
<line x1="465.68" y1="210.5" x2="465.68" y2="212.5" stroke="#4e4b45" stroke-width="0.4"/>
<line x1="466.66" y1="210.5" x2="466.66" y2="212.5" stroke="#4e4b45" stroke-width="0.4"/>
<line x1="467.64" y1="210.5" x2="467.64" y2="212.5" stroke="#4e4b45" stroke-width="0.4"/>
<line x1="468.62" y1="210.5" x2="468.62" y2="212.5" stroke="#4e4b45" stroke-width="0.4"/>
<line x1="469.60" y1="210.5" x2="469.60" y2="214.5" stroke="#4e4b45" stroke-width="0.4"/>
<line x1="470.58" y1="210.5" x2="470.58" y2="212.5" stroke="#4e4b45" stroke-width="0.4"/>
<line x1="401.90" y1="195.2" x2="401.00" y2="200.2" stroke="#8e8e8a" stroke-width="0.85"/>
<line x1="405.72" y1="196.2" x2="404.82" y2="200.2" stroke="#8e8e8a" stroke-width="0.85"/>
<line x1="409.54" y1="195.2" x2="408.64" y2="200.2" stroke="#8e8e8a" stroke-width="0.85"/>
<line x1="413.36" y1="196.2" x2="412.46" y2="200.2" stroke="#8e8e8a" stroke-width="0.85"/>
<line x1="417.18" y1="195.2" x2="416.28" y2="200.2" stroke="#8e8e8a" stroke-width="0.85"/>
<line x1="421.00" y1="196.2" x2="420.10" y2="200.2" stroke="#8e8e8a" stroke-width="0.85"/>
<line x1="424.82" y1="195.2" x2="423.92" y2="200.2" stroke="#8e8e8a" stroke-width="0.85"/>
<line x1="428.64" y1="196.2" x2="427.74" y2="200.2" stroke="#8e8e8a" stroke-width="0.85"/>
<line x1="432.46" y1="195.2" x2="431.56" y2="200.2" stroke="#8e8e8a" stroke-width="0.85"/>
<line x1="436.28" y1="196.2" x2="435.38" y2="200.2" stroke="#8e8e8a" stroke-width="0.85"/>
<line x1="440.10" y1="195.2" x2="439.20" y2="200.2" stroke="#8e8e8a" stroke-width="0.85"/>
<line x1="443.92" y1="196.2" x2="443.02" y2="200.2" stroke="#8e8e8a" stroke-width="0.85"/>
<line x1="447.74" y1="195.2" x2="446.84" y2="200.2" stroke="#8e8e8a" stroke-width="0.85"/>
<line x1="451.56" y1="196.2" x2="450.66" y2="200.2" stroke="#8e8e8a" stroke-width="0.85"/>
<line x1="455.38" y1="195.2" x2="454.48" y2="200.2" stroke="#8e8e8a" stroke-width="0.85"/>
<line x1="459.20" y1="196.2" x2="458.30" y2="200.2" stroke="#8e8e8a" stroke-width="0.85"/>
<line x1="463.02" y1="195.2" x2="462.12" y2="200.2" stroke="#8e8e8a" stroke-width="0.85"/>
<line x1="466.84" y1="196.2" x2="465.94" y2="200.2" stroke="#8e8e8a" stroke-width="0.85"/>
<line x1="470.66" y1="195.2" x2="469.76" y2="200.2" stroke="#8e8e8a" stroke-width="0.85"/>
<text x="413.60" y="209.20" font-size="5.6" fill="#9a9a94" text-anchor="middle" >10</text>
<text x="428.50" y="209.20" font-size="5.6" fill="#9a9a94" text-anchor="middle" >20</text>
<text x="444.30" y="209.20" font-size="5.6" fill="#9a9a94" text-anchor="middle" >30</text>
<text x="460.80" y="209.20" font-size="5.6" fill="#9a9a94" text-anchor="middle" >40</text>
<rect x="400" y="217" width="72.5" height="1.8" fill="#d8cfbc"/>
<ellipse cx="419.6" cy="34.6" rx="7.6" ry="7.4" fill="url(#th)"/>
<path d="M424.29,33.10 Q424.70,34.60 424.09,35.96 Q423.48,37.31 422.41,38.55 Q421.35,39.78 419.75,39.33 Q418.16,38.87 416.67,38.28 Q415.18,37.69 414.81,36.15 Q414.43,34.60 415.14,33.29 Q415.85,31.98 416.89,30.81 Q417.93,29.64 419.47,30.01 Q421.02,30.39 422.45,31.00 Q423.88,31.61 424.29,33.10 Z" fill="url(#tg)"/>
<ellipse cx="416.7" cy="59.2" rx="6.4" ry="6.4" fill="url(#th)"/>
<path d="M420.15,58.01 Q420.32,59.20 419.99,60.27 Q419.65,61.35 418.81,62.22 Q417.97,63.10 416.62,63.36 Q415.27,63.61 414.49,62.49 Q413.71,61.37 413.29,60.29 Q412.87,59.20 413.02,57.92 Q413.16,56.63 414.19,55.63 Q415.22,54.63 416.62,54.87 Q418.03,55.11 419.01,55.96 Q419.99,56.81 420.15,58.01 Z" fill="url(#tg)"/>
<ellipse cx="417.5" cy="79" rx="7.0" ry="6.6" fill="url(#th)"/>
<path d="M422.26,77.67 Q423.03,79.00 421.93,80.11 Q420.82,81.21 419.99,82.44 Q419.15,83.66 417.64,83.28 Q416.12,82.90 415.09,82.10 Q414.06,81.29 413.67,80.15 Q413.29,79.00 413.57,77.79 Q413.85,76.57 414.86,75.48 Q415.87,74.39 417.35,74.82 Q418.83,75.24 420.16,75.79 Q421.48,76.35 422.26,77.67 Z" fill="url(#tg)"/>
<ellipse cx="417.5" cy="95.9" rx="7.199999999999999" ry="6.9" fill="url(#th)"/>
<path d="M422.19,94.48 Q422.72,95.90 422.05,97.22 Q421.38,98.55 420.22,99.49 Q419.07,100.44 417.62,100.09 Q416.17,99.74 415.10,99.01 Q414.02,98.27 413.50,97.09 Q412.97,95.90 413.10,94.44 Q413.22,92.98 414.61,92.26 Q415.99,91.53 417.47,91.61 Q418.95,91.70 420.30,92.38 Q421.66,93.06 422.19,94.48 Z" fill="url(#tg)"/>
<ellipse cx="417.5" cy="111.3" rx="7.6" ry="7.4" fill="url(#th)"/>
<path d="M422.20,109.88 Q422.82,111.30 422.20,112.73 Q421.59,114.16 420.46,115.44 Q419.33,116.71 417.53,116.64 Q415.73,116.56 414.61,115.33 Q413.49,114.11 412.73,112.70 Q411.97,111.30 412.53,109.76 Q413.10,108.22 414.36,106.99 Q415.63,105.76 417.46,105.88 Q419.29,105.99 420.43,107.22 Q421.57,108.45 422.20,109.88 Z" fill="url(#tg)"/>
<ellipse cx="418.5" cy="130.7" rx="9.6" ry="9.6" fill="url(#th)"/>
<path d="M425.83,128.47 Q427.04,130.70 425.40,132.61 Q423.76,134.52 422.24,136.04 Q420.73,137.55 418.38,137.94 Q416.03,138.32 414.60,136.44 Q413.18,134.57 412.15,132.63 Q411.13,130.70 412.26,128.85 Q413.40,126.99 414.74,125.14 Q416.09,123.28 418.54,123.17 Q420.98,123.07 422.80,124.66 Q424.63,126.25 425.83,128.47 Z" fill="url(#tg)"/>
<ellipse cx="417.5" cy="147.9" rx="7.800000000000001" ry="7.800000000000001" fill="url(#th)"/>
<path d="M423.02,146.17 Q423.77,147.90 422.77,149.45 Q421.76,151.00 420.55,152.28 Q419.34,153.56 417.53,153.47 Q415.72,153.39 414.29,152.33 Q412.85,151.28 412.42,149.59 Q411.98,147.90 412.23,146.08 Q412.48,144.25 414.00,143.03 Q415.52,141.82 417.37,142.22 Q419.22,142.62 420.74,143.53 Q422.27,144.44 423.02,146.17 Z" fill="url(#tg)"/>
<ellipse cx="414" cy="165.4" rx="8.4" ry="7.9" fill="url(#th)"/>
<path d="M419.14,163.75 Q419.33,165.40 419.33,167.18 Q419.34,168.97 417.67,170.02 Q416.01,171.08 413.89,171.38 Q411.78,171.68 410.12,170.39 Q408.47,169.10 408.35,167.25 Q408.23,165.40 408.70,163.79 Q409.17,162.17 410.57,160.93 Q411.98,159.69 413.80,160.25 Q415.62,160.81 417.29,161.45 Q418.95,162.09 419.14,163.75 Z" fill="url(#tg)"/>
<ellipse cx="456.6" cy="37.3" rx="6.6" ry="6.0" fill="url(#th)"/>
<path d="M460.32,36.20 Q460.53,37.30 460.13,38.28 Q459.72,39.26 458.75,39.83 Q457.77,40.40 456.45,40.81 Q455.12,41.22 454.29,40.25 Q453.46,39.27 453.01,38.28 Q452.56,37.30 452.86,36.22 Q453.16,35.14 454.12,34.20 Q455.08,33.26 456.43,33.71 Q457.78,34.17 458.94,34.64 Q460.10,35.10 460.32,36.20 Z" fill="url(#tg)"/>
<ellipse cx="455.3" cy="62.2" rx="6.2" ry="6.0" fill="url(#th)"/>
<path d="M458.77,61.21 Q459.36,62.20 459.15,63.45 Q458.93,64.71 457.80,65.45 Q456.66,66.18 455.29,66.21 Q453.92,66.23 453.11,65.26 Q452.29,64.28 451.85,63.24 Q451.41,62.20 451.81,61.13 Q452.21,60.07 453.06,59.10 Q453.91,58.14 455.31,58.10 Q456.72,58.06 457.45,59.14 Q458.17,60.22 458.77,61.21 Z" fill="url(#tg)"/>
<ellipse cx="456.5" cy="80.8" rx="6.0" ry="5.9" fill="url(#th)"/>
<path d="M459.77,79.69 Q459.91,80.80 459.61,81.79 Q459.31,82.79 458.44,83.40 Q457.57,84.02 456.45,84.16 Q455.33,84.30 454.33,83.67 Q453.34,83.04 453.16,81.92 Q452.99,80.80 453.45,79.89 Q453.91,78.97 454.63,78.17 Q455.36,77.37 456.49,77.40 Q457.63,77.43 458.63,78.00 Q459.64,78.58 459.77,79.69 Z" fill="url(#tg)"/>
<ellipse cx="455.3" cy="98.2" rx="7.199999999999999" ry="7.0" fill="url(#th)"/>
<path d="M460.38,96.65 Q461.02,98.20 460.31,99.70 Q459.59,101.19 458.22,101.99 Q456.85,102.79 455.27,102.86 Q453.70,102.94 452.36,102.06 Q451.03,101.18 451.02,99.69 Q451.01,98.20 450.88,96.61 Q450.74,95.02 452.18,94.12 Q453.62,93.23 455.32,93.16 Q457.03,93.09 458.38,94.10 Q459.73,95.11 460.38,96.65 Z" fill="url(#tg)"/>
<ellipse cx="453.5" cy="116.6" rx="7.199999999999999" ry="7.0" fill="url(#th)"/>
<path d="M457.65,115.39 Q458.33,116.60 457.87,117.97 Q457.41,119.33 456.13,119.96 Q454.85,120.59 453.37,120.97 Q451.89,121.36 450.96,120.19 Q450.02,119.03 449.61,117.81 Q449.19,116.60 449.51,115.32 Q449.83,114.04 450.98,113.28 Q452.12,112.53 453.54,112.40 Q454.97,112.27 455.97,113.23 Q456.97,114.18 457.65,115.39 Z" fill="url(#tg)"/>
<ellipse cx="447" cy="132.7" rx="8.5" ry="8.0" fill="url(#th)"/>
<path d="M452.07,131.08 Q452.29,132.70 451.91,134.21 Q451.53,135.73 450.11,136.62 Q448.70,137.51 446.92,137.74 Q445.14,137.98 443.91,136.78 Q442.68,135.59 441.31,134.15 Q439.95,132.70 440.83,130.93 Q441.72,129.17 443.49,128.49 Q445.27,127.80 447.03,127.71 Q448.79,127.62 450.32,128.54 Q451.85,129.46 452.07,131.08 Z" fill="url(#tg)"/>
<ellipse cx="461.7" cy="134.5" rx="6.800000000000001" ry="6.4" fill="url(#th)"/>
<path d="M465.62,133.36 Q466.10,134.50 465.54,135.59 Q464.97,136.67 464.13,137.81 Q463.28,138.94 461.67,139.03 Q460.05,139.12 459.04,138.03 Q458.02,136.94 457.57,135.72 Q457.12,134.50 457.80,133.43 Q458.47,132.36 459.47,131.69 Q460.46,131.01 461.75,130.86 Q463.05,130.71 464.10,131.46 Q465.14,132.22 465.62,133.36 Z" fill="url(#tg)"/>
<ellipse cx="447.7" cy="149.6" rx="8.4" ry="8.0" fill="url(#th)"/>
<path d="M454.02,147.63 Q454.55,149.60 453.36,151.12 Q452.17,152.64 450.75,153.46 Q449.32,154.27 447.42,155.09 Q445.51,155.91 444.07,154.48 Q442.64,153.04 442.42,151.32 Q442.20,149.60 442.41,147.87 Q442.61,146.14 444.34,145.53 Q446.07,144.92 447.85,144.48 Q449.63,144.03 451.56,144.85 Q453.48,145.67 454.02,147.63 Z" fill="url(#tg)"/>
<ellipse cx="449" cy="167.2" rx="8.1" ry="8.4" fill="url(#th)"/>
<path d="M454.47,165.54 Q455.59,167.20 454.83,169.14 Q454.07,171.07 452.38,171.86 Q450.68,172.65 448.97,172.75 Q447.25,172.85 445.99,171.65 Q444.74,170.46 443.66,168.83 Q442.59,167.20 443.38,165.36 Q444.18,163.52 445.60,162.15 Q447.01,160.78 448.87,161.20 Q450.72,161.62 452.04,162.75 Q453.35,163.88 454.47,165.54 Z" fill="url(#tg)"/>
<path d="M464.0,29.2 H468.0 Q469.4,29.2 469.4,30.599999999999998 V104.39999999999999 Q469.4,105.8 468.0,105.8 H464.0" fill="none" stroke="#111" stroke-width="1.45"/>
<line x1="469.40" y1="67.80" x2="474.30" y2="67.80" stroke="#111" stroke-width="1.4"/>
<path d="M464.0,106.6 H468.0 Q469.4,106.6 469.4,108.0 V144.0 Q469.4,145.4 468.0,145.4 H464.0" fill="none" stroke="#111" stroke-width="1.45"/>
<line x1="469.40" y1="126.20" x2="474.30" y2="126.20" stroke="#111" stroke-width="1.4"/>
<path d="M464.0,146.2 H468.0 Q469.4,146.2 469.4,147.6 V174.4 Q469.4,175.8 468.0,175.8 H464.0" fill="none" stroke="#111" stroke-width="1.45"/>
<line x1="469.40" y1="161.20" x2="474.30" y2="161.20" stroke="#111" stroke-width="1.4"/>
<text x="478.60" y="70.50" font-size="7.8" fill="#85163f" font-style="italic" textLength="23.3" lengthAdjust="spacingAndGlyphs"  stroke="#85163f" stroke-width="0.28">S1PR2</text>
<text x="502.10" y="67.38" font-size="5.4" fill="#85163f" font-style="italic"  stroke="#85163f" stroke-width="0.2">+/+</text>
<text x="478.60" y="128.80" font-size="7.8" fill="#8cb0cf" font-style="italic" textLength="23.3" lengthAdjust="spacingAndGlyphs"  stroke="#8cb0cf" stroke-width="0.28">S1PR2</text>
<text x="502.10" y="125.68" font-size="5.4" fill="#8cb0cf" font-style="italic"  stroke="#8cb0cf" stroke-width="0.2">+/-</text>
<text x="478.60" y="163.30" font-size="7.8" fill="#363c52" font-style="italic" textLength="23.3" lengthAdjust="spacingAndGlyphs"  stroke="#363c52" stroke-width="0.28">S1PR2</text>
<text x="502.10" y="160.18" font-size="5.4" fill="#363c52" font-style="italic"  stroke="#363c52" stroke-width="0.2">-/-</text>
<text x="7.60" y="166.00" font-size="11.4" fill="#000" font-weight="bold"  stroke="#000" stroke-width="0.1">D</text>
<line x1="49.50" y1="174.00" x2="49.50" y2="260.20" stroke="#111" stroke-width="1.35"/>
<line x1="46.50" y1="259.50" x2="49.80" y2="259.50" stroke="#111" stroke-width="1.25"/>
<text x="43.50" y="262.48" font-size="9.4" fill="#262626" text-anchor="end" textLength="11.24" lengthAdjust="spacingAndGlyphs" >0.0</text>
<line x1="46.50" y1="232.50" x2="49.80" y2="232.50" stroke="#111" stroke-width="1.25"/>
<text x="43.50" y="235.03" font-size="9.4" fill="#262626" text-anchor="end" textLength="11.24" lengthAdjust="spacingAndGlyphs" >0.1</text>
<line x1="46.50" y1="204.50" x2="49.80" y2="204.50" stroke="#111" stroke-width="1.25"/>
<text x="43.50" y="207.58" font-size="9.4" fill="#262626" text-anchor="end" textLength="11.24" lengthAdjust="spacingAndGlyphs" >0.2</text>
<line x1="46.50" y1="177.50" x2="49.80" y2="177.50" stroke="#111" stroke-width="1.25"/>
<text x="43.50" y="180.13" font-size="9.4" fill="#262626" text-anchor="end" textLength="11.24" lengthAdjust="spacingAndGlyphs" >0.3</text>
<line x1="49.20" y1="259.50" x2="173.00" y2="259.50" stroke="#111" stroke-width="1.35"/>
<line x1="68.50" y1="259.60" x2="68.50" y2="262.60" stroke="#111" stroke-width="1.25"/>
<text x="68.50" y="273.90" font-size="8.4" fill="#262626" text-anchor="middle" textLength="12.14" lengthAdjust="spacingAndGlyphs" >+/+</text>
<line x1="110.50" y1="259.60" x2="110.50" y2="262.60" stroke="#111" stroke-width="1.25"/>
<text x="110.40" y="273.90" font-size="8.4" fill="#262626" text-anchor="middle" textLength="10.04" lengthAdjust="spacingAndGlyphs" >+/-</text>
<line x1="152.50" y1="259.60" x2="152.50" y2="262.60" stroke="#111" stroke-width="1.25"/>
<text x="152.50" y="273.90" font-size="8.4" fill="#262626" text-anchor="middle" textLength="7.93" lengthAdjust="spacingAndGlyphs" >-/-</text>
<text x="26.00" y="217.70" font-size="9.4" fill="#333" text-anchor="middle" textLength="58.8" lengthAdjust="spacingAndGlyphs" transform="rotate(-90 26.00 217.70)"  stroke="#333" stroke-width="0.06">Tumor weight [g]</text>
<text x="19.60" y="273.30" font-size="8.3" fill="#2a2a2a" font-style="italic" textLength="23.3" lengthAdjust="spacingAndGlyphs"  stroke="#2a2a2a" stroke-width="0.3">S1PR2</text>
<line x1="60.80" y1="175.50" x2="151.80" y2="175.50" stroke="#111" stroke-width="1.1"/>
<circle cx="104.50" cy="171.90" r="1.15" fill="#222"/>
<circle cx="107.90" cy="171.90" r="1.15" fill="#222"/>
<line x1="61.30" y1="187.50" x2="113.30" y2="187.50" stroke="#111" stroke-width="1.1"/>
<circle cx="85.40" cy="183.30" r="1.15" fill="#222"/>
<circle cx="88.80" cy="183.30" r="1.15" fill="#222"/>
<circle cx="69.80" cy="238.30" r="1.7" fill="#8c0c34"/>
<circle cx="72.80" cy="240.80" r="1.7" fill="#8c0c34"/>
<circle cx="67.60" cy="245.60" r="1.7" fill="#8c0c34"/>
<circle cx="58.20" cy="248.10" r="1.7" fill="#8c0c34"/>
<circle cx="82.30" cy="248.10" r="1.7" fill="#8c0c34"/>
<circle cx="61.50" cy="250.50" r="1.7" fill="#8c0c34"/>
<circle cx="64.50" cy="251.80" r="1.7" fill="#8c0c34"/>
<circle cx="68.50" cy="251.80" r="1.7" fill="#8c0c34"/>
<circle cx="72.50" cy="252.00" r="1.7" fill="#8c0c34"/>
<circle cx="76.50" cy="251.00" r="1.7" fill="#8c0c34"/>
<circle cx="80.30" cy="251.80" r="1.7" fill="#8c0c34"/>
<circle cx="59.50" cy="253.80" r="1.7" fill="#8c0c34"/>
<circle cx="63.00" cy="255.50" r="1.7" fill="#8c0c34"/>
<circle cx="67.00" cy="256.80" r="1.7" fill="#8c0c34"/>
<circle cx="71.00" cy="256.80" r="1.7" fill="#8c0c34"/>
<circle cx="75.00" cy="256.30" r="1.7" fill="#8c0c34"/>
<circle cx="79.50" cy="255.20" r="1.7" fill="#8c0c34"/>
<circle cx="62.00" cy="257.80" r="1.7" fill="#8c0c34"/>
<circle cx="66.00" cy="258.20" r="1.7" fill="#8c0c34"/>
<circle cx="73.00" cy="258.20" r="1.7" fill="#8c0c34"/>
<circle cx="77.00" cy="257.80" r="1.7" fill="#8c0c34"/>
<circle cx="82.40" cy="253.50" r="1.7" fill="#8c0c34"/>
<line x1="56.80" y1="251.50" x2="83.50" y2="251.50" stroke="#111" stroke-width="1.5"/>
<rect x="109.80" y="191.50" width="3.2" height="3.2" fill="#6196ca"/>
<rect x="109.80" y="206.30" width="3.2" height="3.2" fill="#6196ca"/>
<rect x="109.80" y="211.10" width="3.2" height="3.2" fill="#6196ca"/>
<rect x="104.80" y="226.80" width="3.2" height="3.2" fill="#6196ca"/>
<rect x="110.10" y="226.80" width="3.2" height="3.2" fill="#6196ca"/>
<rect x="114.80" y="226.80" width="3.2" height="3.2" fill="#6196ca"/>
<rect x="110.10" y="240.00" width="3.2" height="3.2" fill="#6196ca"/>
<rect x="114.80" y="243.80" width="3.2" height="3.2" fill="#6196ca"/>
<rect x="104.80" y="246.60" width="3.2" height="3.2" fill="#6196ca"/>
<rect x="110.10" y="246.60" width="3.2" height="3.2" fill="#6196ca"/>
<rect x="107.40" y="253.70" width="3.2" height="3.2" fill="#6196ca"/>
<rect x="112.40" y="252.60" width="3.2" height="3.2" fill="#6196ca"/>
<line x1="97.60" y1="235.50" x2="125.20" y2="235.50" stroke="#111" stroke-width="1.5"/>
<polygon points="148.00,229.00 152.60,229.00 150.30,225.00" fill="#2c3d66"/>
<polygon points="155.00,232.20 159.60,232.20 157.30,228.20" fill="#2c3d66"/>
<polygon points="153.20,235.70 157.80,235.70 155.50,231.70" fill="#2c3d66"/>
<polygon points="148.00,238.70 152.60,238.70 150.30,234.70" fill="#2c3d66"/>
<polygon points="145.30,243.60 149.90,243.60 147.60,239.60" fill="#2c3d66"/>
<polygon points="155.00,242.70 159.60,242.70 157.30,238.70" fill="#2c3d66"/>
<polygon points="150.60,247.10 155.20,247.10 152.90,243.10" fill="#2c3d66"/>
<polygon points="150.20,256.70 154.80,256.70 152.50,252.70" fill="#2c3d66"/>
<line x1="138.90" y1="238.50" x2="166.50" y2="238.50" stroke="#111" stroke-width="1.5"/>
<text x="199.20" y="166.00" font-size="11.4" fill="#000" font-weight="bold"  stroke="#000" stroke-width="0.1">E</text>
<line x1="245.50" y1="173.00" x2="245.50" y2="260.00" stroke="#111" stroke-width="1.35"/>
<line x1="241.70" y1="259.50" x2="245.00" y2="259.50" stroke="#111" stroke-width="1.25"/>
<text x="238.70" y="262.28" font-size="9.4" fill="#262626" text-anchor="end" textLength="4.5" lengthAdjust="spacingAndGlyphs" >0</text>
<line x1="241.70" y1="242.50" x2="245.00" y2="242.50" stroke="#111" stroke-width="1.25"/>
<text x="238.70" y="245.64" font-size="9.4" fill="#262626" text-anchor="end" textLength="13.49" lengthAdjust="spacingAndGlyphs" >100</text>
<line x1="241.70" y1="226.50" x2="245.00" y2="226.50" stroke="#111" stroke-width="1.25"/>
<text x="238.70" y="229.00" font-size="9.4" fill="#262626" text-anchor="end" textLength="13.49" lengthAdjust="spacingAndGlyphs" >200</text>
<line x1="241.70" y1="209.50" x2="245.00" y2="209.50" stroke="#111" stroke-width="1.25"/>
<text x="238.70" y="212.36" font-size="9.4" fill="#262626" text-anchor="end" textLength="13.49" lengthAdjust="spacingAndGlyphs" >300</text>
<line x1="241.70" y1="192.50" x2="245.00" y2="192.50" stroke="#111" stroke-width="1.25"/>
<text x="238.70" y="195.72" font-size="9.4" fill="#262626" text-anchor="end" textLength="13.49" lengthAdjust="spacingAndGlyphs" >400</text>
<line x1="241.70" y1="176.50" x2="245.00" y2="176.50" stroke="#111" stroke-width="1.25"/>
<text x="238.70" y="179.08" font-size="9.4" fill="#262626" text-anchor="end" textLength="13.49" lengthAdjust="spacingAndGlyphs" >500</text>
<line x1="244.40" y1="259.50" x2="366.60" y2="259.50" stroke="#111" stroke-width="1.35"/>
<line x1="264.50" y1="259.40" x2="264.50" y2="262.40" stroke="#111" stroke-width="1.25"/>
<text x="264.70" y="273.90" font-size="8.4" fill="#262626" text-anchor="middle" textLength="12.14" lengthAdjust="spacingAndGlyphs" >+/+</text>
<line x1="305.50" y1="259.40" x2="305.50" y2="262.40" stroke="#111" stroke-width="1.25"/>
<text x="305.00" y="273.90" font-size="8.4" fill="#262626" text-anchor="middle" textLength="10.04" lengthAdjust="spacingAndGlyphs" >+/-</text>
<line x1="345.50" y1="259.40" x2="345.50" y2="262.40" stroke="#111" stroke-width="1.25"/>
<text x="345.30" y="273.90" font-size="8.4" fill="#262626" text-anchor="middle" textLength="7.93" lengthAdjust="spacingAndGlyphs" >-/-</text>
<text x="219.80" y="216.20" font-size="9.4" fill="#333" text-anchor="middle" textLength="74" lengthAdjust="spacingAndGlyphs" transform="rotate(-90 219.80 216.20)"  stroke="#333" stroke-width="0.06">Tumor volume [mm<tspan dy='-3.2' font-size='6.4'>3</tspan><tspan dy='3.2'>]</tspan></text>
<line x1="256.10" y1="175.50" x2="343.70" y2="175.50" stroke="#111" stroke-width="1.1"/>
<circle cx="296.20" cy="171.20" r="1.15" fill="#222"/>
<circle cx="299.60" cy="171.20" r="1.15" fill="#222"/>
<circle cx="303.00" cy="171.20" r="1.15" fill="#222"/>
<line x1="256.50" y1="186.50" x2="307.30" y2="186.50" stroke="#111" stroke-width="1.1"/>
<circle cx="278.50" cy="182.70" r="1.15" fill="#222"/>
<circle cx="281.90" cy="182.70" r="1.15" fill="#222"/>
<circle cx="285.30" cy="182.70" r="1.15" fill="#222"/>
<circle cx="265.00" cy="238.80" r="1.7" fill="#8c0c34"/>
<circle cx="258.10" cy="246.20" r="1.7" fill="#8c0c34"/>
<circle cx="262.70" cy="247.30" r="1.7" fill="#8c0c34"/>
<circle cx="267.80" cy="247.30" r="1.7" fill="#8c0c34"/>
<circle cx="272.40" cy="245.30" r="1.7" fill="#8c0c34"/>
<circle cx="257.00" cy="251.50" r="1.7" fill="#8c0c34"/>
<circle cx="260.50" cy="250.50" r="1.7" fill="#8c0c34"/>
<circle cx="264.00" cy="251.00" r="1.7" fill="#8c0c34"/>
<circle cx="268.00" cy="250.50" r="1.7" fill="#8c0c34"/>
<circle cx="271.50" cy="250.80" r="1.7" fill="#8c0c34"/>
<circle cx="254.50" cy="254.00" r="1.7" fill="#8c0c34"/>
<circle cx="258.50" cy="254.80" r="1.7" fill="#8c0c34"/>
<circle cx="262.50" cy="255.50" r="1.7" fill="#8c0c34"/>
<circle cx="266.50" cy="255.50" r="1.7" fill="#8c0c34"/>
<circle cx="270.50" cy="254.80" r="1.7" fill="#8c0c34"/>
<circle cx="274.50" cy="254.20" r="1.7" fill="#8c0c34"/>
<circle cx="277.50" cy="253.50" r="1.7" fill="#8c0c34"/>
<circle cx="258.00" cy="257.60" r="1.7" fill="#8c0c34"/>
<circle cx="261.50" cy="258.00" r="1.7" fill="#8c0c34"/>
<circle cx="265.00" cy="258.20" r="1.7" fill="#8c0c34"/>
<circle cx="268.50" cy="258.00" r="1.7" fill="#8c0c34"/>
<circle cx="272.00" cy="257.60" r="1.7" fill="#8c0c34"/>
<circle cx="265.00" cy="260.40" r="1.7" fill="#8c0c34"/>
<line x1="251.50" y1="254.50" x2="278.50" y2="254.50" stroke="#111" stroke-width="1.5"/>
<rect x="303.70" y="190.30" width="3.2" height="3.2" fill="#6196ca"/>
<rect x="303.70" y="204.20" width="3.2" height="3.2" fill="#6196ca"/>
<rect x="298.50" y="216.80" width="3.2" height="3.2" fill="#6196ca"/>
<rect x="303.70" y="217.20" width="3.2" height="3.2" fill="#6196ca"/>
<rect x="308.80" y="217.20" width="3.2" height="3.2" fill="#6196ca"/>
<rect x="301.10" y="228.40" width="3.2" height="3.2" fill="#6196ca"/>
<rect x="306.20" y="228.90" width="3.2" height="3.2" fill="#6196ca"/>
<rect x="308.80" y="228.40" width="3.2" height="3.2" fill="#6196ca"/>
<rect x="301.10" y="233.90" width="3.2" height="3.2" fill="#6196ca"/>
<rect x="301.10" y="243.10" width="3.2" height="3.2" fill="#6196ca"/>
<rect x="306.20" y="243.10" width="3.2" height="3.2" fill="#6196ca"/>
<rect x="303.70" y="249.60" width="3.2" height="3.2" fill="#6196ca"/>
<line x1="292.00" y1="229.50" x2="319.00" y2="229.50" stroke="#111" stroke-width="1.5"/>
<polygon points="345.70,208.40 350.30,208.40 348.00,204.40" fill="#2c3d66"/>
<polygon points="340.80,212.50 345.40,212.50 343.10,208.50" fill="#2c3d66"/>
<polygon points="343.00,224.90 347.60,224.90 345.30,220.90" fill="#2c3d66"/>
<polygon points="345.70,232.40 350.30,232.40 348.00,228.40" fill="#2c3d66"/>
<polygon points="338.00,236.00 342.60,236.00 340.30,232.00" fill="#2c3d66"/>
<polygon points="340.80,237.90 345.40,237.90 343.10,233.90" fill="#2c3d66"/>
<polygon points="345.70,240.90 350.30,240.90 348.00,236.90" fill="#2c3d66"/>
<polygon points="343.00,251.10 347.60,251.10 345.30,247.10" fill="#2c3d66"/>
<line x1="332.00" y1="231.50" x2="359.70" y2="231.50" stroke="#111" stroke-width="1.5"/>
<text x="7.60" y="301.50" font-size="11.4" fill="#000" font-weight="bold"  stroke="#000" stroke-width="0.1">F</text>
<line x1="49.50" y1="320.00" x2="49.50" y2="376.60" stroke="#111" stroke-width="1.35"/>
<line x1="46.10" y1="376.50" x2="49.40" y2="376.50" stroke="#111" stroke-width="1.25"/>
<text x="43.10" y="378.88" font-size="9.4" fill="#262626" text-anchor="end" textLength="4.5" lengthAdjust="spacingAndGlyphs" >0</text>
<line x1="46.10" y1="358.50" x2="49.40" y2="358.50" stroke="#111" stroke-width="1.25"/>
<text x="43.10" y="361.38" font-size="9.4" fill="#262626" text-anchor="end" textLength="8.99" lengthAdjust="spacingAndGlyphs" >50</text>
<line x1="46.10" y1="341.50" x2="49.40" y2="341.50" stroke="#111" stroke-width="1.25"/>
<text x="43.10" y="343.88" font-size="9.4" fill="#262626" text-anchor="end" textLength="13.49" lengthAdjust="spacingAndGlyphs" >100</text>
<line x1="46.10" y1="323.50" x2="49.40" y2="323.50" stroke="#111" stroke-width="1.25"/>
<text x="43.10" y="326.38" font-size="9.4" fill="#262626" text-anchor="end" textLength="13.49" lengthAdjust="spacingAndGlyphs" >150</text>
<line x1="48.80" y1="376.50" x2="120.80" y2="376.50" stroke="#111" stroke-width="1.35"/>
<line x1="69.50" y1="376.00" x2="69.50" y2="379.00" stroke="#111" stroke-width="1.25"/>
<text x="69.00" y="390.30" font-size="8.4" fill="#262626" text-anchor="middle" textLength="12.14" lengthAdjust="spacingAndGlyphs" >+/+</text>
<line x1="108.50" y1="376.00" x2="108.50" y2="379.00" stroke="#111" stroke-width="1.25"/>
<text x="108.00" y="390.30" font-size="8.4" fill="#262626" text-anchor="middle" textLength="7.93" lengthAdjust="spacingAndGlyphs" >-/-</text>
<text x="23.70" y="341.70" font-size="9.4" fill="#333" text-anchor="middle" textLength="68.5" lengthAdjust="spacingAndGlyphs" transform="rotate(-90 23.70 341.70)"  stroke="#333" stroke-width="0.06">Spleen weight [mg]</text>
<text x="19.60" y="389.40" font-size="8.3" fill="#2a2a2a" font-style="italic" textLength="23.3" lengthAdjust="spacingAndGlyphs"  stroke="#2a2a2a" stroke-width="0.3">S1PR2</text>
<line x1="67.90" y1="324.50" x2="108.00" y2="324.50" stroke="#111" stroke-width="1.1"/>
<circle cx="86.30" cy="320.20" r="1.15" fill="#222"/>
<circle cx="89.70" cy="320.20" r="1.15" fill="#222"/>
<circle cx="69.00" cy="357.80" r="1.7" fill="#8c0c34"/>
<circle cx="67.40" cy="360.00" r="1.7" fill="#8c0c34"/>
<circle cx="71.10" cy="360.40" r="1.7" fill="#8c0c34"/>
<circle cx="66.10" cy="362.60" r="1.7" fill="#8c0c34"/>
<circle cx="69.60" cy="362.60" r="1.7" fill="#8c0c34"/>
<circle cx="72.60" cy="362.40" r="1.7" fill="#8c0c34"/>
<circle cx="68.20" cy="364.90" r="1.7" fill="#8c0c34"/>
<circle cx="70.60" cy="365.30" r="1.7" fill="#8c0c34"/>
<circle cx="69.00" cy="368.60" r="1.7" fill="#8c0c34"/>
<line x1="56.00" y1="362.50" x2="82.40" y2="362.50" stroke="#111" stroke-width="1.5"/>
<polygon points="105.95,332.49 111.45,332.49 108.70,327.71" fill="#2c3d66"/>
<polygon points="105.95,348.09 111.45,348.09 108.70,343.31" fill="#2c3d66"/>
<polygon points="101.95,352.59 107.45,352.59 104.70,347.81" fill="#2c3d66"/>
<polygon points="108.65,353.69 114.15,353.69 111.40,348.91" fill="#2c3d66"/>
<polygon points="105.65,354.59 111.15,354.59 108.40,349.81" fill="#2c3d66"/>
<polygon points="105.25,360.39 110.75,360.39 108.00,355.61" fill="#2c3d66"/>
<line x1="95.40" y1="350.50" x2="121.50" y2="350.50" stroke="#111" stroke-width="1.5"/>
<text x="143.40" y="301.50" font-size="11.4" fill="#000" font-weight="bold"  stroke="#000" stroke-width="0.1">G</text>
<text x="220.80" y="311.70" font-size="10.6" fill="#2a2a2a" text-anchor="middle" textLength="30.0" lengthAdjust="spacingAndGlyphs"  stroke="#2a2a2a" stroke-width="0.06">Spleen</text>
<line x1="181.50" y1="321.20" x2="181.50" y2="376.80" stroke="#111" stroke-width="1.35"/>
<line x1="178.00" y1="376.50" x2="181.30" y2="376.50" stroke="#111" stroke-width="1.25"/>
<text x="175.00" y="379.08" font-size="9.4" fill="#262626" text-anchor="end" textLength="4.5" lengthAdjust="spacingAndGlyphs" >0</text>
<line x1="178.00" y1="363.50" x2="181.30" y2="363.50" stroke="#111" stroke-width="1.25"/>
<text x="175.00" y="365.91" font-size="9.4" fill="#262626" text-anchor="end" textLength="8.99" lengthAdjust="spacingAndGlyphs" >10</text>
<line x1="178.00" y1="349.50" x2="181.30" y2="349.50" stroke="#111" stroke-width="1.25"/>
<text x="175.00" y="352.74" font-size="9.4" fill="#262626" text-anchor="end" textLength="8.99" lengthAdjust="spacingAndGlyphs" >20</text>
<line x1="178.00" y1="336.50" x2="181.30" y2="336.50" stroke="#111" stroke-width="1.25"/>
<text x="175.00" y="339.57" font-size="9.4" fill="#262626" text-anchor="end" textLength="8.99" lengthAdjust="spacingAndGlyphs" >30</text>
<line x1="178.00" y1="323.50" x2="181.30" y2="323.50" stroke="#111" stroke-width="1.25"/>
<text x="175.00" y="326.40" font-size="9.4" fill="#262626" text-anchor="end" textLength="8.99" lengthAdjust="spacingAndGlyphs" >40</text>
<line x1="180.70" y1="376.50" x2="260.00" y2="376.50" stroke="#111" stroke-width="1.35"/>
<line x1="201.50" y1="376.20" x2="201.50" y2="379.20" stroke="#111" stroke-width="1.25"/>
<text x="201.00" y="390.30" font-size="8.4" fill="#262626" text-anchor="middle" textLength="12.14" lengthAdjust="spacingAndGlyphs" >+/+</text>
<line x1="239.50" y1="376.20" x2="239.50" y2="379.20" stroke="#111" stroke-width="1.25"/>
<text x="239.50" y="390.30" font-size="8.4" fill="#262626" text-anchor="middle" textLength="7.93" lengthAdjust="spacingAndGlyphs" >-/-</text>
<text x="161.00" y="347.60" font-size="9.4" fill="#333" text-anchor="middle" textLength="57.5" lengthAdjust="spacingAndGlyphs" transform="rotate(-90 161.00 347.60)"  stroke="#333" stroke-width="0.06">hCD45<tspan dy='-3.2' font-size='6.4'>+</tspan><tspan dy='3.2'> cells [%]</tspan></text>
<line x1="194.40" y1="324.50" x2="241.50" y2="324.50" stroke="#111" stroke-width="1.1"/>
<circle cx="217.70" cy="320.80" r="1.15" fill="#222"/>
<circle cx="191.20" cy="375.60" r="1.7" fill="#8c0c34"/>
<circle cx="194.05" cy="375.60" r="1.7" fill="#8c0c34"/>
<circle cx="196.90" cy="375.60" r="1.7" fill="#8c0c34"/>
<circle cx="199.75" cy="375.60" r="1.7" fill="#8c0c34"/>
<circle cx="202.60" cy="375.60" r="1.7" fill="#8c0c34"/>
<circle cx="205.45" cy="375.60" r="1.7" fill="#8c0c34"/>
<circle cx="208.30" cy="375.60" r="1.7" fill="#8c0c34"/>
<circle cx="211.15" cy="375.60" r="1.7" fill="#8c0c34"/>
<polygon points="238.50,330.50 243.10,330.50 240.80,326.50" fill="#2c3d66"/>
<polygon points="238.50,354.00 243.10,354.00 240.80,350.00" fill="#2c3d66"/>
<polygon points="236.50,362.80 241.10,362.80 238.80,358.80" fill="#2c3d66"/>
<polygon points="240.50,362.80 245.10,362.80 242.80,358.80" fill="#2c3d66"/>
<polygon points="236.20,376.60 240.80,376.60 238.50,372.60" fill="#2c3d66"/>
<polygon points="239.20,377.40 243.80,377.40 241.50,373.40" fill="#2c3d66"/>
<line x1="227.60" y1="360.50" x2="254.00" y2="360.50" stroke="#111" stroke-width="1.5"/>
<text x="276.00" y="301.50" font-size="11.4" fill="#000" font-weight="bold"  stroke="#000" stroke-width="0.1">H</text>
<text x="357.70" y="311.70" font-size="10.6" fill="#2a2a2a" text-anchor="middle" textLength="60.2" lengthAdjust="spacingAndGlyphs"  stroke="#2a2a2a" stroke-width="0.06">Bone Marrow</text>
<line x1="317.50" y1="321.00" x2="317.50" y2="376.90" stroke="#111" stroke-width="1.35"/>
<line x1="314.20" y1="376.50" x2="317.50" y2="376.50" stroke="#111" stroke-width="1.25"/>
<text x="311.20" y="379.18" font-size="9.4" fill="#262626" text-anchor="end" textLength="4.5" lengthAdjust="spacingAndGlyphs" >0</text>
<line x1="314.20" y1="365.50" x2="317.50" y2="365.50" stroke="#111" stroke-width="1.25"/>
<text x="311.20" y="368.63" font-size="9.4" fill="#262626" text-anchor="end" textLength="8.99" lengthAdjust="spacingAndGlyphs" >20</text>
<line x1="314.20" y1="355.50" x2="317.50" y2="355.50" stroke="#111" stroke-width="1.25"/>
<text x="311.20" y="358.08" font-size="9.4" fill="#262626" text-anchor="end" textLength="8.99" lengthAdjust="spacingAndGlyphs" >40</text>
<line x1="314.20" y1="344.50" x2="317.50" y2="344.50" stroke="#111" stroke-width="1.25"/>
<text x="311.20" y="347.53" font-size="9.4" fill="#262626" text-anchor="end" textLength="8.99" lengthAdjust="spacingAndGlyphs" >60</text>
<line x1="314.20" y1="334.50" x2="317.50" y2="334.50" stroke="#111" stroke-width="1.25"/>
<text x="311.20" y="336.98" font-size="9.4" fill="#262626" text-anchor="end" textLength="8.99" lengthAdjust="spacingAndGlyphs" >80</text>
<line x1="314.20" y1="323.50" x2="317.50" y2="323.50" stroke="#111" stroke-width="1.25"/>
<text x="311.20" y="326.43" font-size="9.4" fill="#262626" text-anchor="end" textLength="13.49" lengthAdjust="spacingAndGlyphs" >100</text>
<line x1="316.90" y1="376.50" x2="395.60" y2="376.50" stroke="#111" stroke-width="1.35"/>
<line x1="337.50" y1="376.30" x2="337.50" y2="379.30" stroke="#111" stroke-width="1.25"/>
<text x="337.40" y="390.30" font-size="8.4" fill="#262626" text-anchor="middle" textLength="12.14" lengthAdjust="spacingAndGlyphs" >+/+</text>
<line x1="377.50" y1="376.30" x2="377.50" y2="379.30" stroke="#111" stroke-width="1.25"/>
<text x="377.40" y="390.30" font-size="8.4" fill="#262626" text-anchor="middle" textLength="7.93" lengthAdjust="spacingAndGlyphs" >-/-</text>
<text x="293.30" y="347.90" font-size="9.4" fill="#333" text-anchor="middle" textLength="58" lengthAdjust="spacingAndGlyphs" transform="rotate(-90 293.30 347.90)"  stroke="#333" stroke-width="0.06">hCD45<tspan dy='-3.2' font-size='6.4'>+</tspan><tspan dy='3.2'> cells [%]</tspan></text>
<line x1="336.00" y1="326.50" x2="377.30" y2="326.50" stroke="#111" stroke-width="1.1"/>
<text x="356.60" y="323.50" font-size="8.3" fill="#2e2e2e" text-anchor="middle" textLength="14.86" lengthAdjust="spacingAndGlyphs" >0.07</text>
<circle cx="337.40" cy="330.20" r="2.0" fill="#8c0c34"/>
<circle cx="338.20" cy="352.40" r="2.0" fill="#8c0c34"/>
<circle cx="339.20" cy="357.70" r="2.0" fill="#8c0c34"/>
<circle cx="336.60" cy="364.20" r="2.0" fill="#8c0c34"/>
<circle cx="339.20" cy="367.60" r="2.0" fill="#8c0c34"/>
<circle cx="336.10" cy="370.70" r="2.0" fill="#8c0c34"/>
<line x1="325.00" y1="359.50" x2="350.50" y2="359.50" stroke="#111" stroke-width="1.5"/>
<polygon points="370.90,334.78 375.90,334.78 373.40,330.43" fill="#2c3d66"/>
<polygon points="377.70,335.88 382.70,335.88 380.20,331.52" fill="#2c3d66"/>
<polygon points="374.30,338.78 379.30,338.78 376.80,334.43" fill="#2c3d66"/>
<polygon points="376.50,340.57 381.50,340.57 379.00,336.22" fill="#2c3d66"/>
<polygon points="374.90,359.88 379.90,359.88 377.40,355.52" fill="#2c3d66"/>
<line x1="363.50" y1="335.50" x2="389.60" y2="335.50" stroke="#111" stroke-width="1.5"/>
</g>
</svg>
</body></html>
